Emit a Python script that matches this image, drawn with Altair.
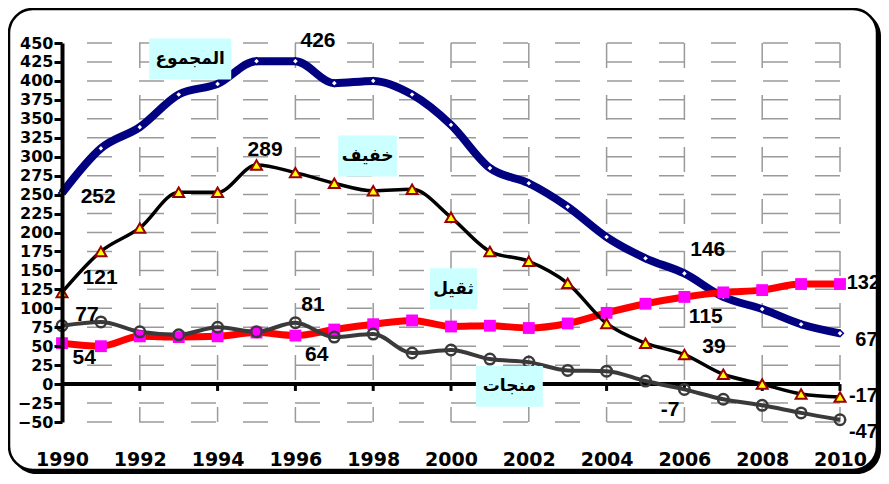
import altair as alt
import pandas as pd

years = list(range(1990, 2011))
series_names = ["المجموع", "خفيف", "ثقيل", "منجات"]
total = [252, 311, 339, 382, 396, 426, 426, 397, 400, 382, 342, 285, 265, 234, 194, 166, 146, 115, 99, 79, 67]
light = [121, 175, 206, 253, 253, 289, 279, 265, 255, 257, 220, 175, 162, 133, 80, 54, 39, 13, 0, -13, -17]
heavy = [54, 50, 63, 62, 63, 68, 64, 72, 79, 84, 76, 77, 74, 80, 94, 106, 115, 121, 124, 132, 132]
products = [77, 82, 69, 65, 75, 69, 81, 62, 66, 41, 45, 33, 29, 18, 17, 4, -7, -20, -28, -38, -47]

y_ticks = list(range(-50, 451, 25))
x_ticks = list(range(1990, 2011, 2))

ann_text = ["252", "426", "289", "121", "77", "54", "81", "64", "146", "115", "39", "-7"]
ann_year = [1990.93, 1996.58, 1995.22, 1990.98, 1990.64, 1990.57, 1996.45, 1996.55, 2006.6, 2006.55, 2006.76, 2005.63]
ann_value = [247, 452, 309, 140, 91, 34, 104, 38, 177, 88, 49, -34]

end_text = ["132", "67", "-17", "-47"]
end_year = [2010.6, 2010.68, 2010.6, 2010.6]
end_value = [133, 58, -16, -63]

box_x1 = [1992.24, 1997.10, 1999.46, 2000.64]
box_x2 = [1994.35, 1998.61, 2000.67, 2002.36]
box_y1 = [402, 274, 99, -30]
box_y2 = [456, 328, 153, 24]

xs = alt.Scale(domain=[1990, 2010], nice=False, zero=False)
ys = alt.Scale(domain=[-50, 450], nice=False, zero=False)

xaxis = alt.Axis(values=x_ticks, format="d", grid=False, domain=False, ticks=False,
                 labelFont="DejaVu Sans", labelFontWeight="bold", labelFontSize=19,
                 labelColor="black", labelPadding=28, title=None, labelOverlap=False,
                 labelFlush=False, zindex=1)
yaxis = alt.Axis(values=y_ticks, grid=False, domainColor="black", domainWidth=4,
                 tickColor="black", tickWidth=3, tickSize=8,
                 labelFont="DejaVu Sans", labelFontWeight="bold", labelFontSize=16,
                 labelColor="black", labelPadding=1, title=None, labelOverlap=False,
                 labelFlush=False, zindex=1)

X = lambda f: alt.X(f, scale=xs, axis=xaxis)
Y = lambda f: alt.Y(f, scale=ys, axis=yaxis)

one = pd.DataFrame({"a": [0]})
shadow = alt.Chart(one).mark_rect(fill="black", cornerRadius=24).encode(
    x=alt.value(-50), x2=alt.value(819), y=alt.value(-31), y2=alt.value(431))
frame = alt.Chart(one).mark_rect(fill="white", stroke="black", strokeWidth=2.5, cornerRadius=24).encode(
    x=alt.value(-53), x2=alt.value(815), y=alt.value(-34), y2=alt.value(427))

hgrid = alt.Chart(pd.DataFrame({"v": y_ticks})).mark_rule(
    color="#9a9a9a", strokeWidth=1.5, strokeDash=[25, 27]).encode(y=Y("v:Q"))
vgrid = alt.Chart(pd.DataFrame({"v": x_ticks})).mark_rule(
    color="#9a9a9a", strokeWidth=1.5, strokeDash=[25, 27]).encode(x=X("v:Q"))

zero_line = alt.Chart(one).mark_rule(color="black", strokeWidth=4).encode(y=alt.Y(datum=0, scale=ys, axis=yaxis))
zero_ticks = alt.Chart(pd.DataFrame({"v": x_ticks[1:]})).mark_rule(color="black", strokeWidth=3).encode(
    x=X("v:Q"), y=alt.Y(datum=0, scale=ys, axis=yaxis), y2=alt.Y2(datum=-9))

box_df = pd.DataFrame({"x1": box_x1, "x2": box_x2, "y1": box_y1, "y2": box_y2, "name": series_names})
boxes = alt.Chart(box_df).mark_rect(fill="#ccffff").encode(
    x=X("x1:Q"), x2="x2:Q", y=Y("y1:Q"), y2="y2:Q")
box_text = alt.Chart(box_df).transform_calculate(
    xc="(datum.x1 + datum.x2) / 2", yc="(datum.y1 + datum.y2) / 2").mark_text(
    font="DejaVu Sans", fontWeight="bold", fontSize=17, color="black").encode(
    x=X("xc:Q"), y=Y("yc:Q"), text="name:N")


def base(values):
    return alt.Chart(pd.DataFrame({"year": years, "value": values})).encode(x=X("year:Q"), y=Y("value:Q"))


line_total = base(total).mark_line(color="#000080", strokeWidth=8, interpolate="monotone")
line_heavy = base(heavy).mark_line(color="#ff0000", strokeWidth=7, interpolate="monotone")
line_light = base(light).mark_line(color="#000000", strokeWidth=3.5, interpolate="monotone")
line_prod = base(products).mark_line(color="#3a3a3a", strokeWidth=4, interpolate="monotone")

pt_total = base(total).mark_point(shape="diamond", filled=True, fill="white", stroke="#000080",
                                  strokeWidth=1.5, size=45, opacity=1)
pt_heavy = base(heavy).mark_point(shape="square", filled=True, fill="#ff00ff", size=140,
                                  strokeWidth=0, opacity=1)
pt_light = base(light).mark_point(shape="triangle-up", filled=True, fill="#ffff00", stroke="#990000",
                                  strokeWidth=2, size=120, opacity=1)
pt_prod = base(products).mark_point(shape="circle", filled=False, color="#3a3a3a",
                                    strokeWidth=2.5, size=110, opacity=1)

ann = alt.Chart(pd.DataFrame({"t": ann_text, "x": ann_year, "y": ann_value})).mark_text(
    font="Liberation Sans", fontWeight="bold", fontSize=21, color="black").encode(
    x=X("x:Q"), y=Y("y:Q"), text="t:N")
ann_end = alt.Chart(pd.DataFrame({"t": end_text, "x": end_year, "y": end_value})).mark_text(
    font="Liberation Sans", fontWeight="bold", fontSize=20, color="black").encode(
    x=X("x:Q"), y=Y("y:Q"), text="t:N")

chart = alt.layer(
    shadow, frame, hgrid, vgrid, zero_line, zero_ticks,
    line_total, line_heavy, line_light, line_prod,
    pt_total, pt_heavy, pt_light, pt_prod,
    boxes, box_text, ann, ann_end,
).properties(
    width=778, height=379, autosize="none",
    padding={"left": 54, "top": 35, "right": 41, "bottom": 52},
).configure_view(strokeWidth=0)

chart.save("out.html", embed_options={"renderer": "svg", "actions": False})
